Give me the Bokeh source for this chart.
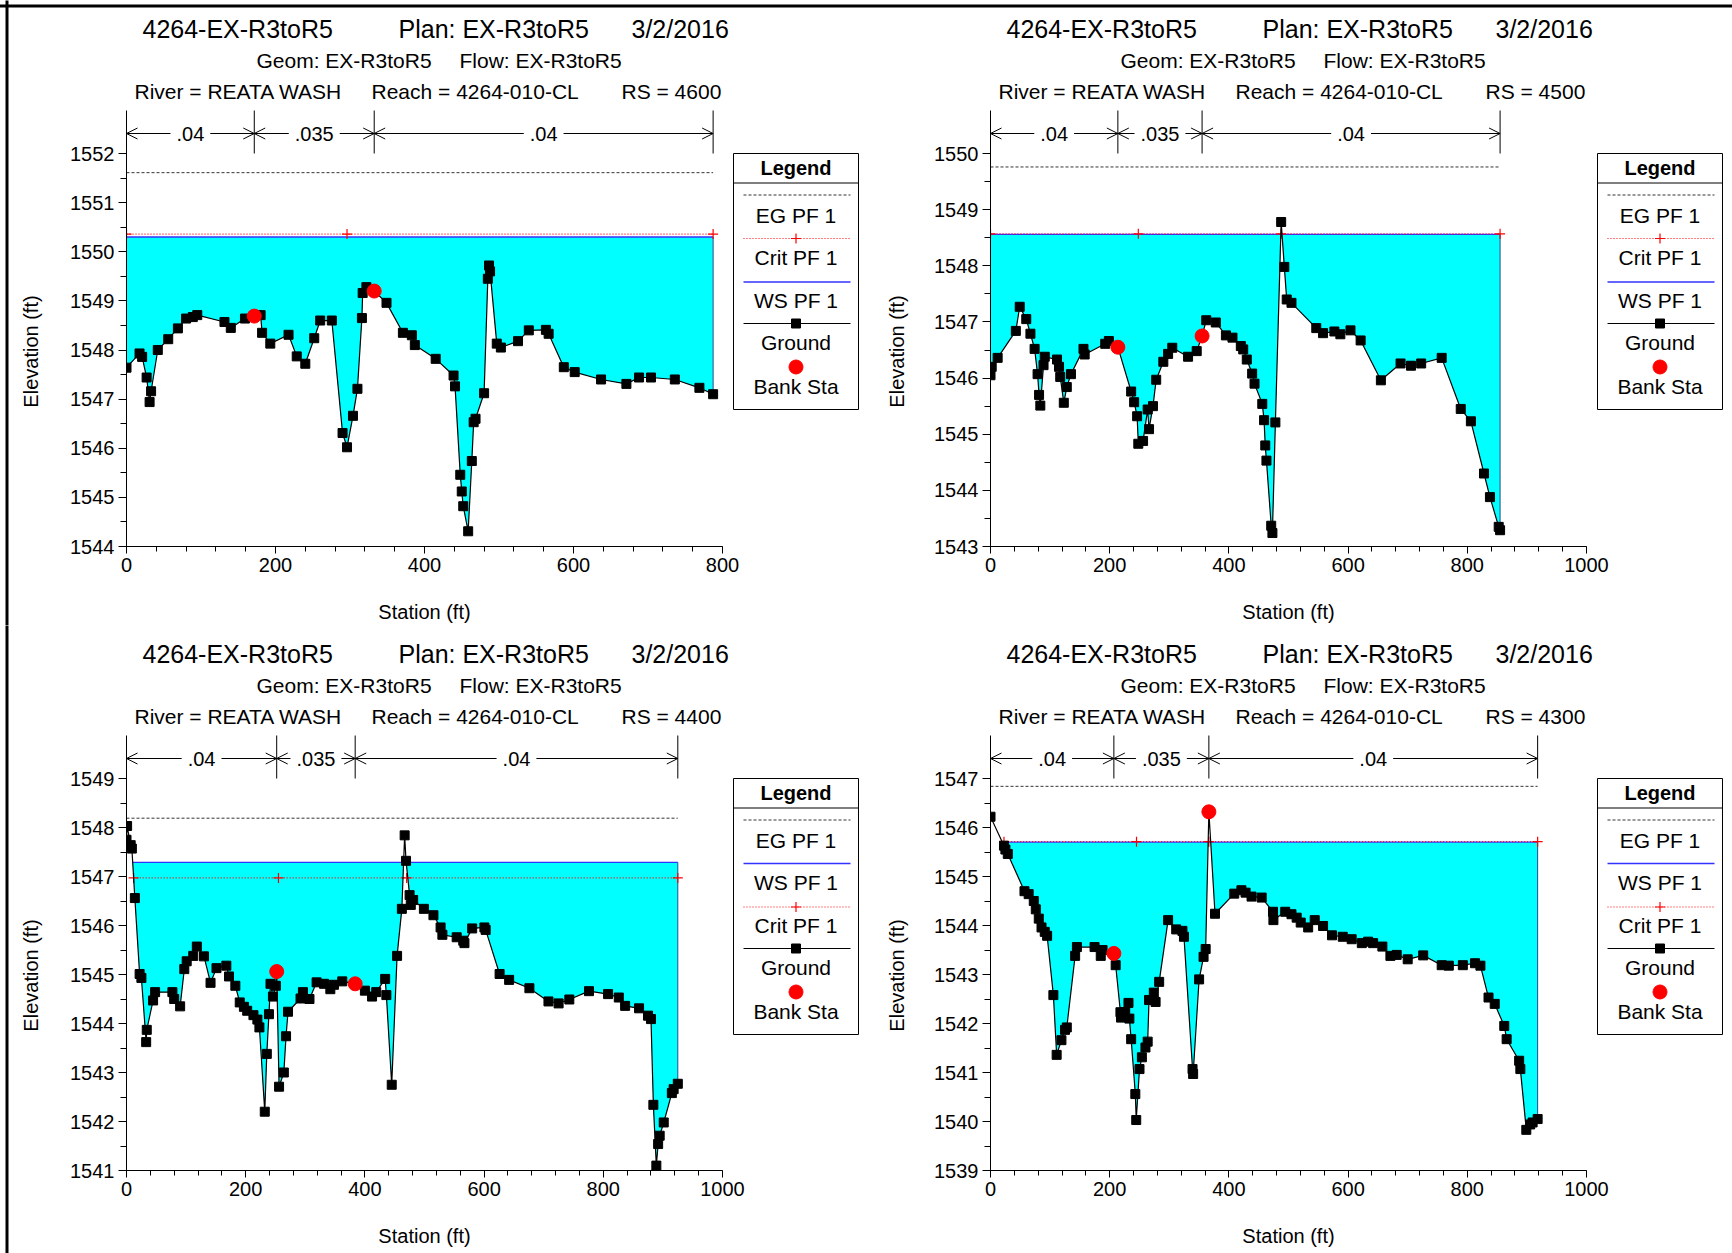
import numpy as np
from bokeh.plotting import figure
from bokeh.layouts import row, column
from bokeh.models import Range1d, FixedTicker, Arrow, OpenHead
from bokeh.core.properties import value
from bokeh.embed import file_html
from bokeh.resources import INLINE

FONT = "Liberation Sans"

# ---------------- data ----------------
STA_4600 = [0, 17.5, 21, 27, 31, 33, 42, 56, 69, 80, 89, 95, 131.5, 140, 159, 171.5, 180, 182, 193, 217.5,
            228.5, 240, 252, 260, 275.6, 290, 296, 304, 310, 316, 317, 322, 332.5, 349, 371, 383, 387, 415, 439, 441,
            448, 450, 452, 458.6, 463.5, 466, 468.5, 480, 485, 486.6, 488, 497, 502.5, 525.5, 540, 563, 566.6, 587,
            601.6, 637, 671, 688, 704, 736, 769, 787.4]
ELEV_4600 = [1547.64, 1547.93, 1547.86, 1547.44, 1546.94, 1547.16, 1548.00, 1548.22, 1548.44, 1548.64,
             1548.67, 1548.71, 1548.57, 1548.45, 1548.64, 1548.69, 1548.71, 1548.35, 1548.13, 1548.31,
             1547.87, 1547.72, 1548.24, 1548.60, 1548.60, 1546.31, 1546.02, 1546.66, 1547.21, 1548.65,
             1549.16, 1549.28, 1549.20, 1548.96, 1548.35, 1548.30, 1548.10, 1547.82, 1547.48, 1547.26,
             1545.46, 1545.12, 1544.82, 1544.31, 1545.74, 1546.53, 1546.60, 1547.12, 1549.45, 1549.72,
             1549.60, 1548.13, 1548.05, 1548.18, 1548.40, 1548.41, 1548.33, 1547.65, 1547.55, 1547.40,
             1547.31, 1547.44, 1547.44, 1547.40, 1547.23, 1547.10]
BANK_STA_4600 = [171.5, 332.5]
BANK_ELEV_4600 = [1548.69, 1549.20]
EG_4600, WS_4600, CRIT_4600 = 1551.61, 1550.30, 1550.36
CRIT_MARKS_4600 = [0, 296, 787.4]

STA_4500 = [0, 2, 12, 42.5, 49, 60, 67, 74, 79, 81.5, 83.6, 89, 91, 111.6, 115, 117, 123, 128, 135, 156,
            158, 192.5, 198.6, 213.7, 236, 241, 246, 248, 256, 263.7, 266, 272.6, 278, 290, 298, 305, 331.5, 346,
            355, 362, 378, 395, 406, 420, 424, 430, 439, 443, 456, 459, 461, 463, 471, 473, 478, 487.7, 493, 497,
            505, 546.6, 558, 577, 587, 604, 621, 655, 688, 705.5, 722.6, 757, 789, 806, 828, 838, 852.7, 855]
ELEV_4500 = [1546.05, 1546.20, 1546.36, 1546.84, 1547.27, 1547.05, 1546.79, 1546.52, 1546.07, 1545.70,
             1545.51, 1546.23, 1546.38, 1546.33, 1546.20, 1546.02, 1545.56, 1545.84, 1546.07, 1546.52,
             1546.42, 1546.61, 1546.66, 1546.55, 1545.76, 1545.57, 1545.32, 1544.83, 1544.88, 1545.44,
             1545.09, 1545.50, 1545.97, 1546.29, 1546.43, 1546.54, 1546.38, 1546.48, 1546.75, 1547.03,
             1546.99, 1546.76, 1546.72, 1546.57, 1546.51, 1546.33, 1546.08, 1545.90, 1545.54, 1545.25,
             1544.80, 1544.53, 1543.37, 1543.24, 1545.21, 1548.78, 1547.98, 1547.40, 1547.34, 1546.89,
             1546.80, 1546.83, 1546.78, 1546.85, 1546.67, 1545.96, 1546.26, 1546.22, 1546.26, 1546.36,
             1545.45, 1545.23, 1544.30, 1543.88, 1543.35, 1543.29]
BANK_STA_4500 = [213.7, 355]
BANK_ELEV_4500 = [1546.55, 1546.75]
EG_4500, WS_4500, CRIT_4500 = 1549.76, 1548.56, 1548.57
CRIT_MARKS_4500 = [0, 248, 487.7, 855]

STA_4400 = [0, 1, 7, 9, 14, 22, 25, 33, 34, 44.6, 48, 77, 80, 90, 97, 101, 112, 118, 130, 141,
            151, 167.5, 172, 182.6, 190, 197, 202.5, 213, 219.6, 223, 232, 235.4, 239, 241.6, 245.7, 250.5, 252,
            256, 264, 267.7, 271, 292, 296, 307, 319, 331.5, 342, 348, 362, 383.7, 400, 412, 419, 434, 436, 445,
            454, 462, 466.7, 469, 475, 477, 481, 499, 515, 527, 530, 554, 565, 567, 580, 600.5, 602.6, 626, 642,
            676, 708, 725, 743, 776, 808, 826, 836.6, 860, 875, 880, 884, 889, 892, 894.6, 901.4, 915, 918, 925]
ELEV_4400 = [1547.75, 1548.03, 1547.64, 1547.57, 1546.56, 1545.01, 1544.93, 1543.62, 1543.87, 1544.47,
             1544.64, 1544.64, 1544.50, 1544.35, 1545.11, 1545.27, 1545.38, 1545.57, 1545.37, 1544.83,
             1545.13, 1545.18, 1544.96, 1544.77, 1544.43, 1544.34, 1544.26, 1544.17, 1544.08, 1543.92,
             1542.20, 1543.38, 1544.19, 1544.81, 1544.55, 1544.77, 1545.06, 1542.71, 1543.00, 1543.74,
             1544.24, 1544.51, 1544.64, 1544.50, 1544.84, 1544.81, 1544.70, 1544.79, 1544.86, 1544.81,
             1544.67, 1544.55, 1544.64, 1544.91, 1544.58, 1542.75, 1545.38, 1546.34, 1547.84, 1547.32,
             1546.62, 1546.42, 1546.52, 1546.34, 1546.21, 1545.96, 1545.81, 1545.76, 1545.69, 1545.64,
             1545.94, 1545.96, 1545.91, 1545.01, 1544.89, 1544.72, 1544.45, 1544.41, 1544.49, 1544.66,
             1544.60, 1544.53, 1544.36, 1544.31, 1544.16, 1544.09, 1542.34, 1541.10, 1541.54, 1541.71,
             1541.98, 1542.58, 1542.66, 1542.77]
BANK_STA_4400 = [252, 383.7]
BANK_ELEV_4400 = [1545.06, 1544.81]
EG_4400, WS_4400, CRIT_4400 = 1548.19, 1547.29, 1546.97
CRIT_MARKS_4400 = [12, 255, 470, 925]

STA_4300 = [0, 22.6, 25, 29, 57, 64, 72.6, 76, 81, 85.6, 91, 95, 105.5, 111, 119, 125, 128, 142, 145, 174.6,
            185, 188, 207, 210, 218, 219, 226, 231.5, 233, 236, 243, 244.5, 250, 254, 260, 263.7, 266, 274, 277,
            283, 298, 311.6, 322, 324.6, 339, 340, 350, 357.5, 361, 366.4, 376.7, 409, 421, 428, 438, 455, 474,
            474.7, 494.5, 505, 513.7, 520.5, 533, 544, 558, 573, 591, 606, 623, 633.6, 642, 657.5, 671, 681.5,
            700, 726, 757, 769, 792.5, 813, 822, 835.6, 846, 862, 866, 887, 889, 899, 905.5, 909.6, 918]
ELEV_4300 = [1546.22, 1545.63, 1545.55, 1545.46, 1544.70, 1544.64, 1544.50, 1544.33, 1544.14, 1543.96,
             1543.87, 1543.79, 1542.58, 1541.36, 1541.66, 1541.87, 1541.92, 1543.38, 1543.56, 1543.56,
             1543.38, 1543.50, 1543.43, 1543.19, 1542.23, 1542.12, 1542.23, 1542.42, 1542.10, 1541.68,
             1540.56, 1540.03, 1541.07, 1541.31, 1541.51, 1541.63, 1542.48, 1542.63, 1542.44, 1542.85,
             1544.11, 1543.92, 1543.89, 1543.77, 1541.07, 1540.97, 1542.90, 1543.36, 1543.52, 1546.32,
             1544.24, 1544.65, 1544.72, 1544.67, 1544.59, 1544.57, 1544.28, 1544.11, 1544.28, 1544.23,
             1544.16, 1544.06, 1543.96, 1544.11, 1543.99, 1543.80, 1543.77, 1543.72, 1543.64, 1543.67,
             1543.64, 1543.57, 1543.38, 1543.40, 1543.31, 1543.39, 1543.19, 1543.18, 1543.19, 1543.23,
             1543.18, 1542.53, 1542.40, 1541.95, 1541.68, 1541.24, 1541.07, 1539.83, 1539.94, 1539.98,
             1540.05]
BANK_STA_4300 = [207, 366.4]
BANK_ELEV_4300 = [1543.43, 1546.32]
EG_4300, WS_4300, CRIT_4300 = 1546.84, 1545.70, 1545.71
CRIT_MARKS_4300 = [22.6, 245, 366.4, 918]

TITLE_LINE1 = ["4264-EX-R3toR5", "Plan: EX-R3toR5", "3/2/2016"]
TITLE_LINE2 = ["Geom: EX-R3toR5", "Flow: EX-R3toR5"]
TITLE_LINE3 = ["River = REATA WASH", "Reach = 4264-010-CL"]
X_LABEL = "Station (ft)"
Y_LABEL = "Elevation (ft)"
N_VALUES = [".04", ".035", ".04"]
LEGEND_LABELS = {"EG": "EG PF 1", "Crit": "Crit PF 1", "WS": "WS PF 1", "Ground": "Ground", "Bank": "Bank Sta"}

PANELS = [
    dict(rs="4600", sta=STA_4600, elev=ELEV_4600, bsta=BANK_STA_4600, belev=BANK_ELEV_4600,
         eg=EG_4600, ws=WS_4600, crit=CRIT_4600, cmarks=CRIT_MARKS_4600, xmax=800, ymin=1544, ymax=1552,
         order=["EG", "Crit", "WS", "Ground"]),
    dict(rs="4500", sta=STA_4500, elev=ELEV_4500, bsta=BANK_STA_4500, belev=BANK_ELEV_4500,
         eg=EG_4500, ws=WS_4500, crit=CRIT_4500, cmarks=CRIT_MARKS_4500, xmax=1000, ymin=1543, ymax=1550,
         order=["EG", "Crit", "WS", "Ground"]),
    dict(rs="4400", sta=STA_4400, elev=ELEV_4400, bsta=BANK_STA_4400, belev=BANK_ELEV_4400,
         eg=EG_4400, ws=WS_4400, crit=CRIT_4400, cmarks=CRIT_MARKS_4400, xmax=1000, ymin=1541, ymax=1549,
         order=["EG", "WS", "Crit", "Ground"]),
    dict(rs="4300", sta=STA_4300, elev=ELEV_4300, bsta=BANK_STA_4300, belev=BANK_ELEV_4300,
         eg=EG_4300, ws=WS_4300, crit=CRIT_4300, cmarks=CRIT_MARKS_4300, xmax=1000, ymin=1539, ymax=1547,
         order=["EG", "WS", "Crit", "Ground"]),
]

CYAN = "#00FFFF"
WS_COLOR = "#3333FF"
CRIT_COLOR = "#FF0000"
EG_COLOR = "#333333"


def crossings(sta, elev, level):
    sta = np.asarray(sta, float)
    elev = np.asarray(elev, float)
    below = elev <= level
    i = int(np.argmax(below))
    if i == 0:
        xl = sta[0]
    else:
        x0, x1, y0, y1 = sta[i - 1], sta[i], elev[i - 1], elev[i]
        xl = x0 + (level - y0) * (x1 - x0) / (y1 - y0)
    j = len(elev) - 1 - int(np.argmax(below[::-1]))
    if j == len(elev) - 1:
        xr = sta[-1]
    else:
        x0, x1, y0, y1 = sta[j], sta[j + 1], elev[j], elev[j + 1]
        xr = x0 + (level - y0) * (x1 - x0) / (y1 - y0)
    return xl, xr


def water_fill(sta, elev, level):
    xs, gs = [], []
    for k in range(len(sta)):
        if k > 0:
            y0, y1 = elev[k - 1], elev[k]
            if (y0 - level) * (y1 - level) < 0:
                xs.append(sta[k - 1] + (level - y0) * (sta[k] - sta[k - 1]) / (y1 - y0))
                gs.append(level)
        xs.append(sta[k])
        gs.append(elev[k])
    xs = np.array(xs, float)
    gs = np.array(gs, float)
    top = np.maximum(gs, level)
    xl, xr = crossings(sta, elev, level)
    m = (xs >= xl - 1e-9) & (xs <= xr + 1e-9)
    return xs[m], gs[m], top[m]


def char_w(s):
    w = {".": 0.278}
    return sum(w.get(c, 0.556) for c in s)


FW = 596  # axis length in px


def build(cfg, W, H, FL, FT, FH, left_border, top_border):
    xmax, ymin, ytick = cfg["xmax"], cfg["ymin"], cfg["ymax"]
    fx = xmax / FW                     # ft per px (x)
    fy = (ytick - ymin) / (FH - 43)    # ft per px (y)
    axis_top = ymin + FH * fy
    FB = H - FT - FH
    p = figure(width=W, height=H, output_backend="svg", toolbar_location=None,
               x_range=Range1d(0, (W - FL) * fx), y_range=Range1d(ymin, ymin + (FT + FH) * fy),
               min_border_left=FL, min_border_right=0, min_border_top=0, min_border_bottom=FB,
               background_fill_color="white", border_fill_color="white", outline_line_color=None)
    p.extra_x_ranges = {"px": Range1d(0, W - FL)}
    p.extra_y_ranges = {"px": Range1d(0, FT + FH)}
    p.xgrid.visible = False
    p.ygrid.visible = False

    xa, ya = p.xaxis[0], p.yaxis[0]
    xa.ticker = FixedTicker(ticks=list(range(0, xmax + 1, 200)), minor_ticks=list(range(0, xmax + 1, 40)))
    xa.bounds = (0, xmax)
    ya.ticker = FixedTicker(ticks=list(range(ymin, ytick + 1)),
                            minor_ticks=list(np.arange(ymin, ytick + 0.01, 0.5)))
    ya.bounds = (ymin, axis_top)
    for ax in (xa, ya):
        ax.axis_line_color = "black"
        ax.major_tick_line_color = "black"
        ax.minor_tick_line_color = "black"
        ax.major_tick_in = 0
        ax.minor_tick_in = 0
        ax.major_label_text_font = FONT
        ax.major_label_text_font_size = "20px"
        ax.major_label_text_color = "black"
    xa.major_tick_out = 7
    xa.minor_tick_out = 5
    xa.major_label_standoff = 4
    ya.major_tick_out = 8
    ya.minor_tick_out = 6
    ya.major_label_standoff = 4

    pk = dict(x_range_name="px", y_range_name="px")
    # axis titles placed like the reference (centred on the tick span)
    p.text(x=[FW / 2], y=[-65], text=[X_LABEL], text_font=value(FONT), text_font_size="20px",
           text_align="center", text_baseline="middle", text_color="black", level="overlay", **pk)
    p.text(x=[30 - FL], y=[195], text=[Y_LABEL], angle=np.pi / 2, text_font=value(FONT),
           text_font_size="20px", text_align="center", text_baseline="middle", text_color="black",
           level="overlay", **pk)

    sta = np.asarray(cfg["sta"], float)
    el = np.asarray(cfg["elev"], float)
    ws, crit, eg = cfg["ws"], cfg["crit"], cfg["eg"]

    # water
    xs, g, top = water_fill(sta, el, ws)
    p.varea(x=xs, y1=g, y2=top, fill_color=CYAN)
    if el[-1] < ws:
        p.segment(x0=[sta[-1]], y0=[el[-1]], x1=[sta[-1]], y1=[ws], line_color="#2a4a8a", line_width=1)

    # EG
    p.line([sta[0], sta[-1]], [eg, eg], line_color=EG_COLOR, line_dash="3 2", line_width=1)
    # WS
    wl, wr = crossings(sta, el, ws)
    p.line([wl, wr], [ws, ws], line_color=WS_COLOR, line_width=1.3)
    # Crit
    cl, cr = crossings(sta, el, crit)
    p.line([cl, cr], [crit, crit], line_color=CRIT_COLOR, line_dash="1 2", line_width=1.2)
    p.scatter(cfg["cmarks"], [crit] * len(cfg["cmarks"]), marker="cross", size=10,
              line_color=CRIT_COLOR, line_width=1.2)
    # ground
    p.line(sta, el, line_color="black", line_width=1.2)
    p.scatter(sta, el, marker="square", size=9, fill_color="black", line_color="black")
    # bank stations
    p.scatter(cfg["bsta"], cfg["belev"], marker="circle", size=14, fill_color="#FF0000", line_color="#FF0000")

    # Manning's n band
    breaks = [0.0] + list(cfg["bsta"]) + [float(sta[-1])]
    y_n = axis_top - 23 * fy
    p.segment(x0=breaks[1:], y0=[axis_top - 43 * fy] * 3, x1=breaks[1:], y1=[axis_top] * 3,
              line_color="black", line_width=1)
    centers = []
    for i, lab in enumerate(N_VALUES):
        a, b = breaks[i], breaks[i + 1]
        c = (a + b) / 2
        centers.append(c)
        hw = (char_w(lab) * 20 / 2 + 6) * fx
        for xs0, xe in ((c - hw, a), (c + hw, b)):
            p.add_layout(Arrow(x_start=xs0, y_start=y_n, x_end=xe, y_end=y_n, line_color="black",
                               line_width=1, end=OpenHead(size=11, line_color="black", line_width=1)))
    p.text(x=centers, y=[y_n] * 3, text=N_VALUES, text_font=value(FONT), text_font_size="20px",
           text_align="center", text_baseline="middle", text_color="black")

    # titles (px coordinates relative to the axis corner)
    tkw = dict(text_font=value(FONT), text_color="black", text_align="left", text_baseline="alphabetic", **pk)
    p.text(x=[16, 272, 505], y=[FH + 82] * 3, text=TITLE_LINE1, text_font_size="25px", **tkw)
    p.text(x=[130, 333], y=[FH + 50] * 2, text=TITLE_LINE2, text_font_size="21px", **tkw)
    p.text(x=[8, 245, 495], y=[FH + 19] * 3, text=TITLE_LINE3 + ["RS = " + cfg["rs"]],
           text_font_size="21px", **tkw)

    # legend
    L0 = FW + 11
    L1 = L0 + 125
    T = FH - 43
    Bt = T - 256
    LC = (L0 + L1) / 2
    p.quad(left=[L0], right=[L1], top=[T], bottom=[Bt], fill_color="white", line_color="black",
           line_width=1, **pk)
    p.segment(x0=[L0], y0=[T - 29.5], x1=[L1], y1=[T - 29.5], line_color="black", line_width=1, **pk)
    lk = dict(text_font=value(FONT), text_color="black", text_align="center", text_baseline="middle", **pk)
    p.text(x=[LC], y=[T - 14], text=["Legend"], text_font_size="20px", text_font_style="bold", **lk)
    sample_y = [41.5, 85, 128.5, 170]
    text_y = [61.5, 104, 147, 188.5]
    sx0, sx1 = L0 + 10, L1 - 8
    for k, key in enumerate(cfg["order"]):
        yy = T - sample_y[k]
        if key == "EG":
            p.line([sx0, sx1], [yy, yy], line_color=EG_COLOR, line_dash="3 2", line_width=1, **pk)
        elif key == "Crit":
            p.line([sx0, sx1], [yy, yy], line_color=CRIT_COLOR, line_dash="1 2", line_width=1, **pk)
            p.scatter([LC], [yy], marker="cross", size=10, line_color=CRIT_COLOR, line_width=1.2, **pk)
        elif key == "WS":
            p.line([sx0, sx1], [yy, yy], line_color=WS_COLOR, line_width=1.3, **pk)
        else:
            p.line([sx0, sx1], [yy, yy], line_color="black", line_width=1.2, **pk)
            p.scatter([LC], [yy], marker="square", size=9, fill_color="black", line_color="black", **pk)
        p.text(x=[LC], y=[T - text_y[k]], text=[LEGEND_LABELS[key]], text_font_size="21px", **lk)
    p.scatter([LC], [T - 213.5], marker="circle", size=14, fill_color="#FF0000", line_color="#FF0000", **pk)
    p.text(x=[LC], y=[T - 233], text=[LEGEND_LABELS["Bank"]], text_font_size="21px", **lk)

    # page frame lines
    if top_border:
        p.segment(x0=[-FL - 2], y0=[FT + FH - 5.5], x1=[W - FL + 2], y1=[FT + FH - 5.5], line_color="black",
                  line_width=3, level="overlay", **pk)
    if left_border:
        p.segment(x0=[-FL + 6.5], y0=[-FB], x1=[-FL + 6.5], y1=[FT + FH], line_color="black",
                  line_width=3, level="overlay", **pk)
    return p


p1 = build(PANELS[0], 866, 625, 126, 110, 436, True, True)
p2 = build(PANELS[1], 866, 625, 124, 110, 436, False, True)
p3 = build(PANELS[2], 866, 628, 126, 110, 435, True, False)
p4 = build(PANELS[3], 866, 628, 124, 110, 435, False, False)

p = column(row(p1, p2), row(p3, p4))
open("out.html", "w").write(file_html(p, INLINE))
